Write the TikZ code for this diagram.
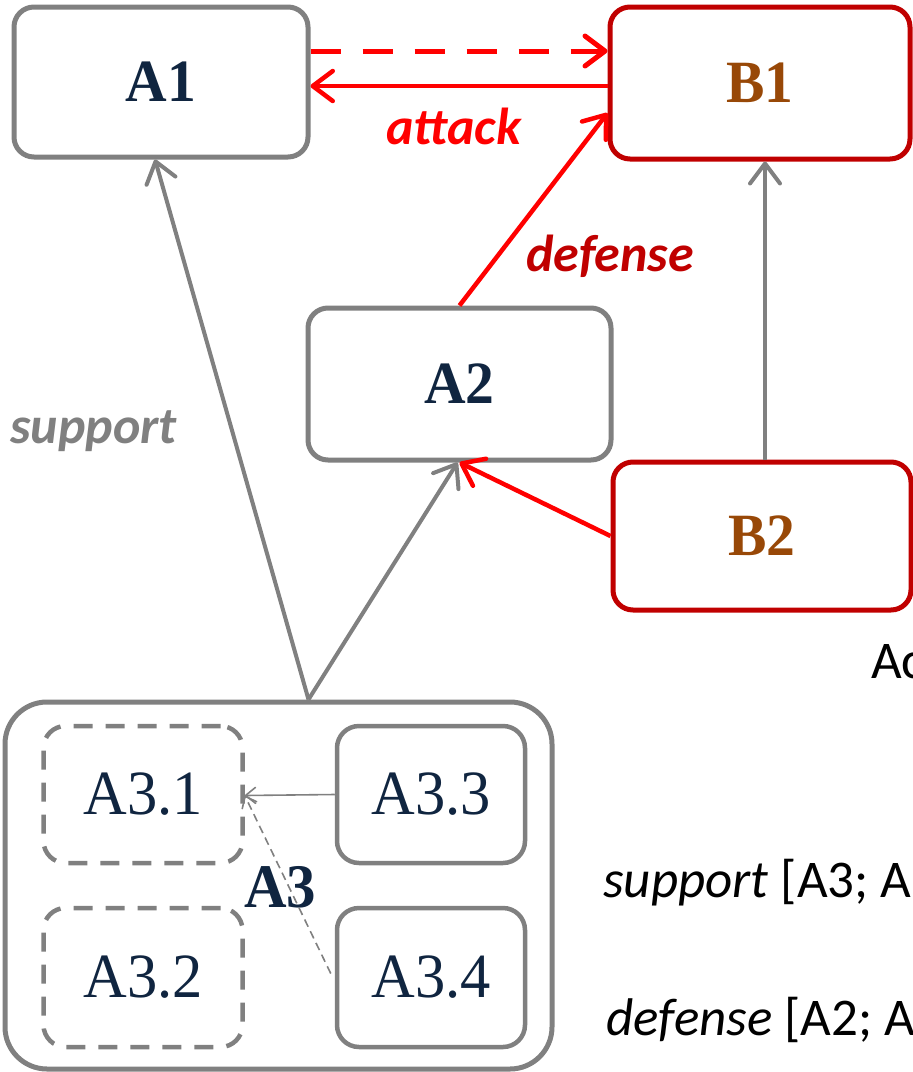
\documentclass[tikz,border=0pt]{standalone}
\usepackage{fontspec}
\setmainfont{Liberation Serif}
\newfontfamily\calib{Carlito}
\usetikzlibrary{arrows.meta}

\definecolor{boxgray}{RGB}{128,128,128}
\definecolor{atkred}{RGB}{255,0,0}
\definecolor{defred}{RGB}{192,0,0}
\definecolor{navy}{RGB}{16,37,64}
\definecolor{rust}{RGB}{152,72,7}

\tikzset{
  argbox/.style={draw=boxgray, line width=5pt, rounded corners=20pt,
    inner sep=0pt, font=\fontsize{60}{72}\selectfont\bfseries, text=navy},
  oppbox/.style={argbox, draw=defred, text=rust},
  subbox/.style={draw=boxgray, line width=4.5pt, rounded corners=22pt,
    inner sep=0pt, font=\fontsize{63}{75}\selectfont, text=navy,
    minimum height=137pt},
  hypo/.style={subbox, dash pattern=on 19pt off 13pt},
  tipbig/.style={-{Straight Barb[length=20pt,width=30pt,round]}},
  tipsmall/.style={-{Straight Barb[length=10pt,width=16pt,round]}},
  supline/.style={tipbig, draw=boxgray, line width=4pt},
  atkline/.style={tipbig, draw=atkred, line width=4.5pt},
  subline/.style={tipsmall, draw=boxgray, line width=1.6pt},
  edgelbl/.style={anchor=base west, inner sep=0pt,
    font=\calib\fontsize{52}{62}\selectfont\bfseries\itshape},
  sidetext/.style={anchor=base west, inner sep=0pt,
    font=\calib\fontsize{53}{63}\selectfont, text=black}
}

\begin{document}
\begin{tikzpicture}[x=1pt, y=-1pt]
  \useasboundingbox (0,0) rectangle (913,1072);
  \clip (0,0) rectangle (913,1072);

  % arguments and counter-arguments
  \node[argbox, minimum width=294pt, minimum height=150pt] (A1) at (161,82) {\scalebox{0.96}[1]{A1}};
  \node[oppbox, minimum width=300pt, minimum height=152pt] (B1) at (760,83) {\scalebox{0.96}[1]{B1}};
  \node[argbox, minimum width=303pt, minimum height=152pt] (A2) at (459.5,384) {\scalebox{0.96}[1]{A2}};
  \node[oppbox, minimum width=298pt, minimum height=148pt] (B2) at (762,536) {\scalebox{0.96}[1]{B2}};

  % compound argument A3
  \node[draw=boxgray, line width=5pt, rounded corners=42pt,
        minimum width=547pt, minimum height=367pt] (A3) at (278.5,885.5) {};
  \node[hypo, minimum width=199pt] (A31) at (143,794.5) {\scalebox{0.96}[1]{A3.1}};
  \node[hypo, minimum width=199pt, minimum height=139pt] (A32) at (143,977.5) {\scalebox{0.96}[1]{A3.2}};
  \node[subbox, minimum width=188pt] (A33) at (431,794.5) {\scalebox{0.96}[1]{A3.3}};
  \node[subbox, minimum width=188pt, minimum height=139pt] (A34) at (431,977.5) {\scalebox{0.96}[1]{A3.4}};
  \node[inner sep=0pt, font=\fontsize{62}{74}\selectfont\bfseries, text=navy]
    (A3lbl) at (280,887) {\scalebox{0.95}[1]{A3}};

  % relations inside A3
  \draw[subline] (A33.west) -- ([yshift=-1pt]A31.east);
  \draw[subline, dash pattern=on 8pt off 5pt] ([xshift=-4pt,yshift=4pt]A34.west) -- ([yshift=-1pt]A31.east);

  % support relations
  \draw[supline] ([xshift=30pt]A3.north) -- ([xshift=-6pt]A1.south);
  \draw[supline] ([xshift=30pt]A3.north) -- ([xshift=-2pt]A2.south);
  \draw[supline] ([xshift=3pt]B2.north) -- ([xshift=5pt]B1.south);

  % attacks and defenses
  \draw[atkline, dash pattern=on 30pt off 22pt, line width=5pt]
    ([yshift=31pt]A1.east) -- ([yshift=32pt]B1.west);
  \draw[atkline] ([yshift=-3pt]B1.west) -- ([yshift=-4pt]A1.east);
  \draw[atkline] (A2.north) -- ([yshift=-30pt]B1.west);
  \draw[atkline] (B2.west) -- (A2.south);

  % edge labels
  \node[edgelbl, text=atkred] (latk) at (386,144) {attack};
  \node[edgelbl, text=defred] (ldef) at (526,271) {defense};
  \node[edgelbl, text=boxgray] (lsup) at (10,443) {support};

  % side notes
  \node[sidetext] (note1) at (871,678) {Ac};
  \node[sidetext] (note2) at (603,897) {\textit{support} [A3; A};
  \node[sidetext] (note3) at (606,1035) {\textit{defense} [A2; A};
\end{tikzpicture}
\end{document}
